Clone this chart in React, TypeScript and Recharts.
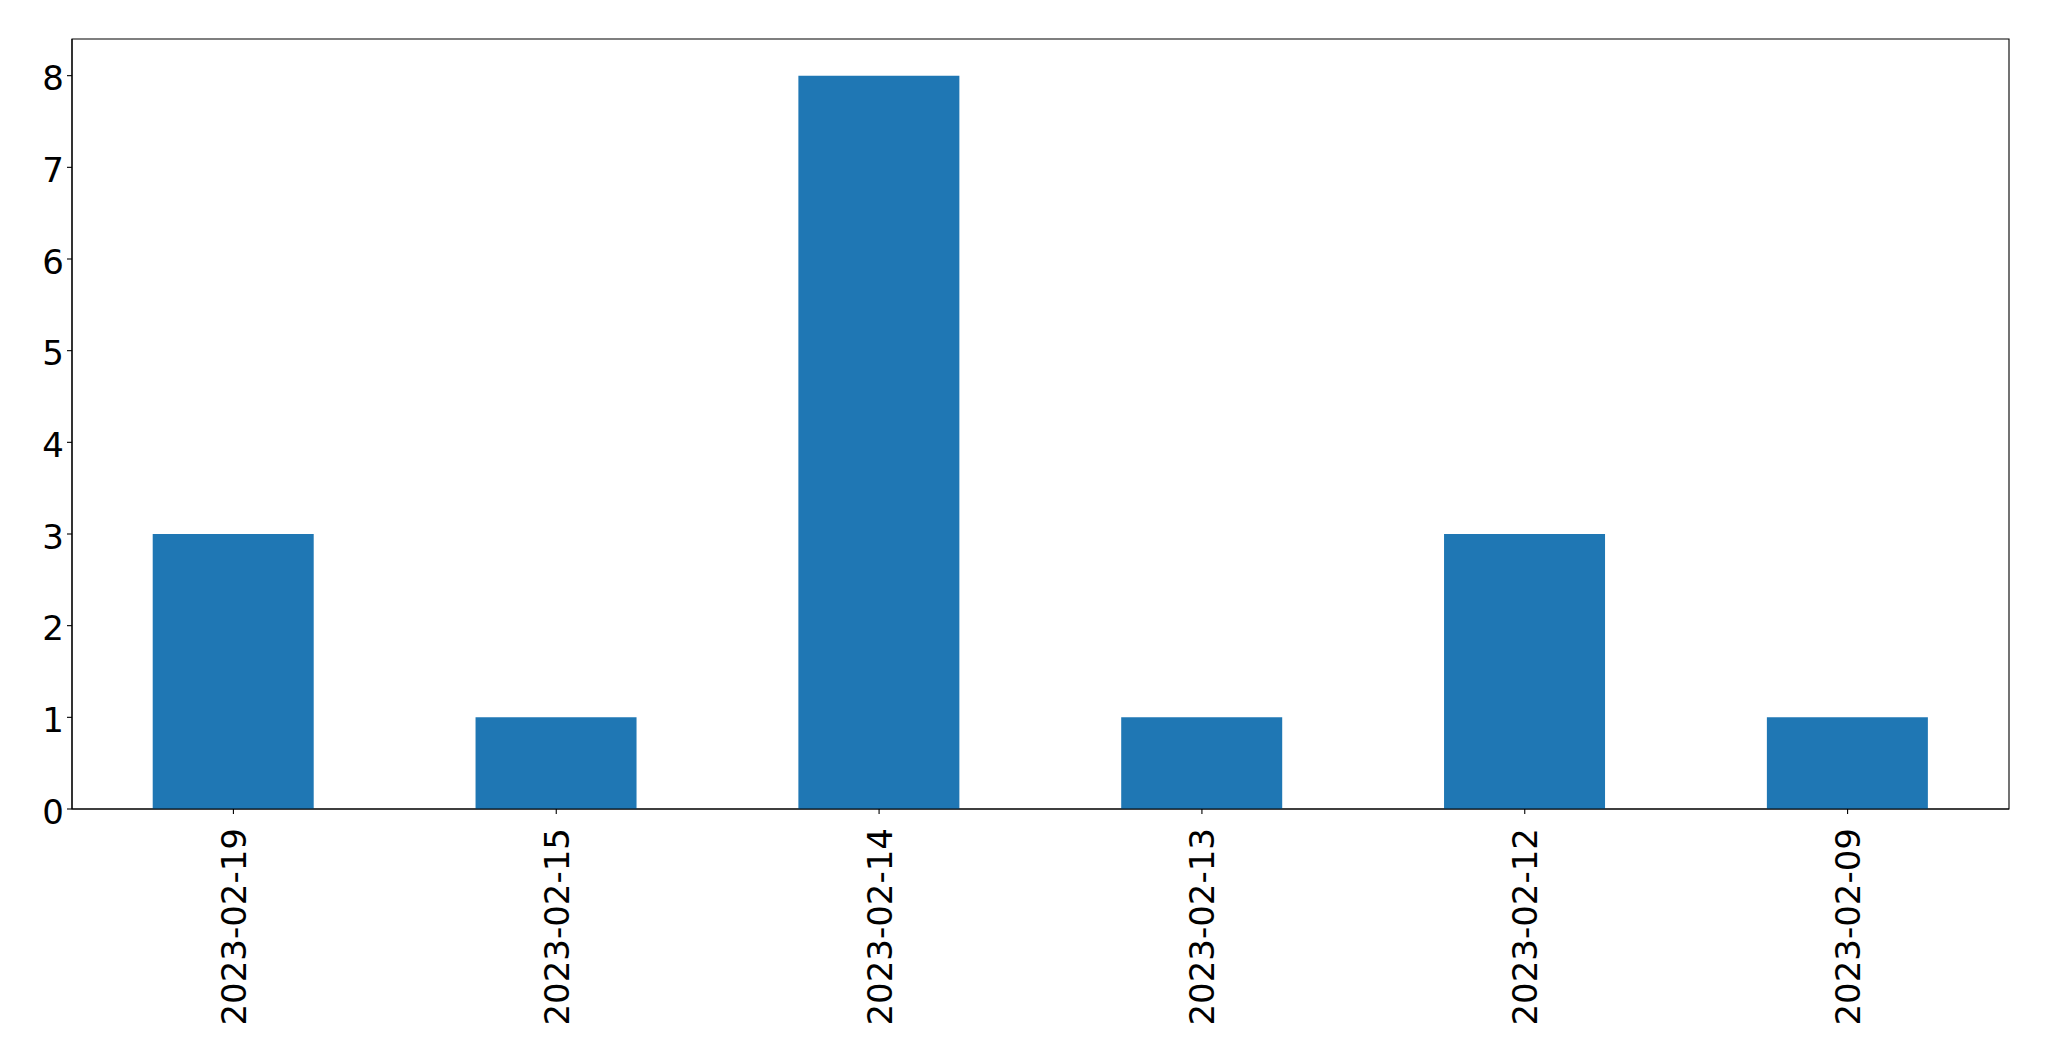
import React from 'react';
import { BarChart, Bar, XAxis, YAxis, ReferenceArea } from 'recharts';

const categories = ['2023-02-19', '2023-02-15', '2023-02-14', '2023-02-13', '2023-02-12', '2023-02-09'];
const counts = [3, 1, 8, 1, 3, 1];
const yTicks = [0, 1, 2, 3, 4, 5, 6, 7, 8];

const data = categories.map((c, i) => ({ date: c, count: counts[i] }));

const FONT = 'DejaVu Sans';
const FS = 34;

const XTick = (props: any) => {
  const { x, y, payload } = props;
  return (
    <g transform={`translate(${x + 12.5}, ${y + 12}) rotate(-90)`}>
      <text x={0} y={0} textAnchor="end" fontFamily={FONT} fontSize={FS} fill="#000">
        {payload.value}
      </text>
    </g>
  );
};

const YTick = (props: any) => {
  const { x, y, payload } = props;
  return (
    <text x={x - 1} y={y + 14.8} textAnchor="end" fontFamily={FONT} fontSize={FS} fill="#000">
      {payload.value}
    </text>
  );
};

export default function App() {
  return (
    <div style={{ position: 'absolute', left: 0, top: 0, background: '#fff' }}>
      <BarChart
        width={2049}
        height={1061}
        data={data}
        margin={{ top: 39, right: 40, bottom: 0, left: 0 }}
        barCategoryGap="25%"
      >
        <XAxis
          dataKey="date"
          type="category"
          height={252}
          interval={0}
          axisLine={{ stroke: '#000', strokeWidth: 1.1 }}
          tickLine={{ stroke: '#000', strokeWidth: 1.1 }}
          tickSize={5}
          tick={<XTick />}
        />
        <YAxis
          type="number"
          domain={[0, 8.4]}
          ticks={yTicks}
          width={72}
          interval={0}
          axisLine={{ stroke: '#000', strokeWidth: 1.1 }}
          tickLine={{ stroke: '#000', strokeWidth: 1.1 }}
          tickSize={5}
          tick={<YTick />}
        />
        <Bar dataKey="count" fill="#1f77b4" isAnimationActive={false} />
        <ReferenceArea
          y1={0}
          y2={8.4}
          fill="none"
          fillOpacity={0}
          stroke="#000"
          strokeWidth={1.1}
          strokeOpacity={1}
          ifOverflow="visible"
        />
      </BarChart>
    </div>
  );
}
